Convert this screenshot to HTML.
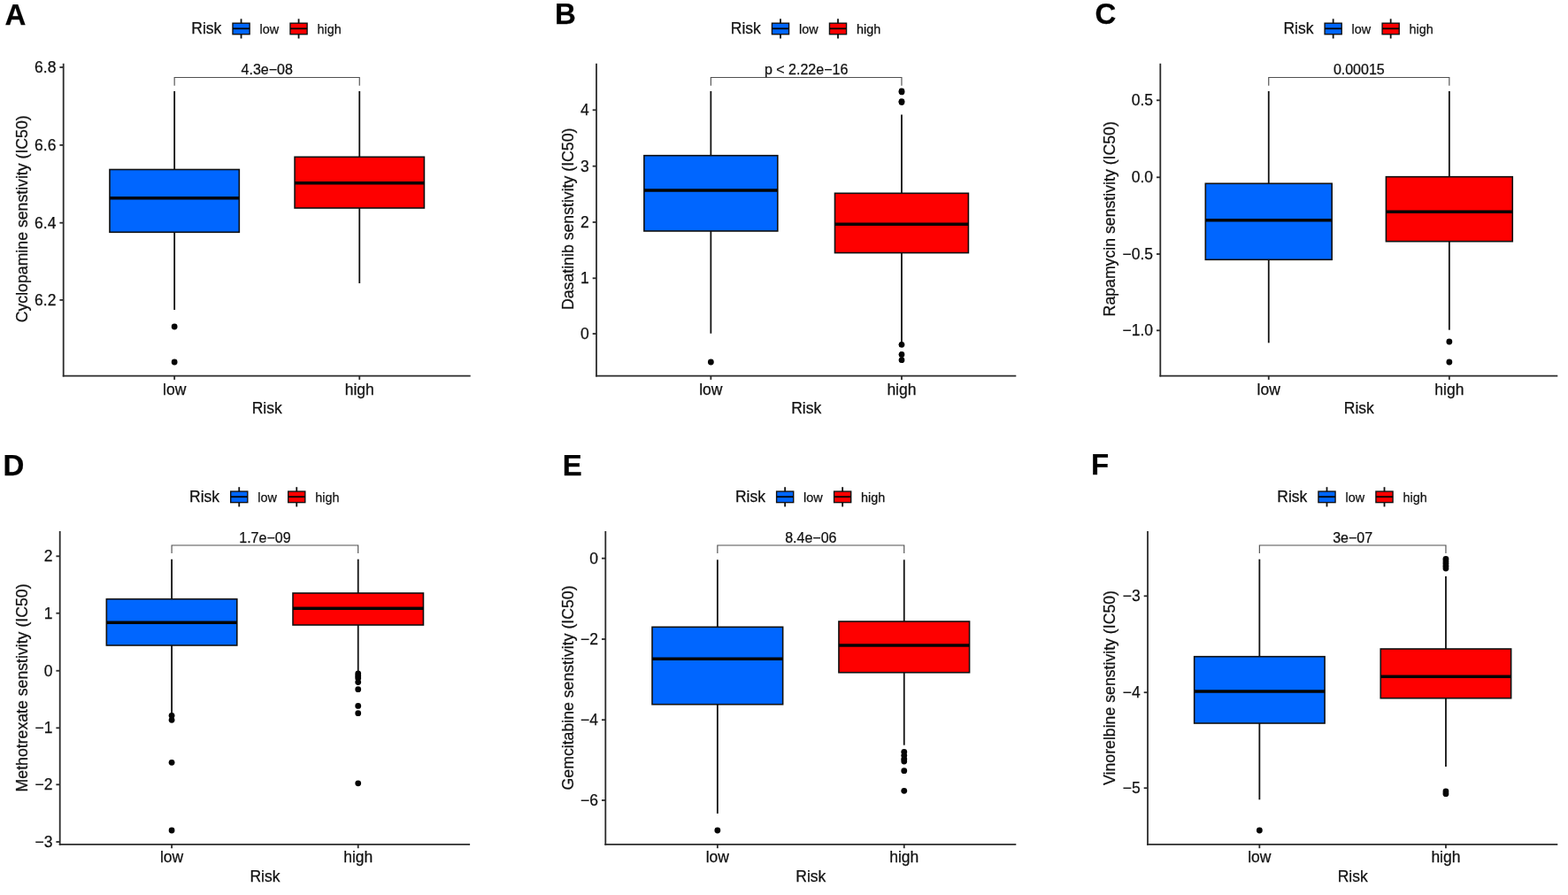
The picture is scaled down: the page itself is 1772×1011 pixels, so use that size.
<!DOCTYPE html>
<html><head><meta charset="utf-8"><title>Drug sensitivity boxplots</title>
<style>
html,body{margin:0;padding:0;background:#fff;}
body{width:1772px;height:1011px;overflow:hidden;}
svg{display:block;}
text{font-family:"Liberation Sans",Arial,Helvetica,sans-serif;fill:#111;stroke:#111;stroke-width:0.25px;}
.let{font-size:33px;font-weight:bold;fill:#000;}
.lt{font-size:17.5px;}
.ll{font-size:14.4px;}
.yt{font-size:17.5px;text-anchor:end;}
.ytt{font-size:17.7px;text-anchor:middle;}
.xt{font-size:17.5px;text-anchor:middle;}
.pv{font-size:16px;text-anchor:middle;}
.ax{stroke:#2b2b2b;stroke-width:1.8;fill:none;}
.wh{stroke:#111;stroke-width:1.8;fill:none;}
.bx{stroke:#111;stroke-width:1.6;}
.kbx{stroke:#111;stroke-width:1.4;}
.med{stroke:#050505;stroke-width:3.4;}
.kmed{stroke:#050505;stroke-width:1.8;}
.brk{stroke:#505050;stroke-width:1.15;fill:none;}
circle{fill:#050505;}
</style></head>
<body>
<svg width="1772" height="1011" viewBox="0 0 1772 1011">
<rect width="1772" height="1011" fill="#fff"/>
<text x="5.5" y="28.3" class="let">A</text>
<text x="216.3" y="38.2" class="lt">Risk</text>
<line x1="272.55" y1="21.3" x2="272.55" y2="43.5" class="wh"/>
<rect x="263" y="26.2" width="19.1" height="12.5" fill="#0066FF" class="kbx"/>
<line x1="263" y1="32.3" x2="282.1" y2="32.3" class="kmed"/>
<text x="293.5" y="37.7" class="ll">low</text>
<line x1="337.55" y1="21.3" x2="337.55" y2="43.5" class="wh"/>
<rect x="328" y="26.2" width="19.1" height="12.5" fill="#FE0000" class="kbx"/>
<line x1="328" y1="32.3" x2="347.1" y2="32.3" class="kmed"/>
<text x="358.5" y="37.7" class="ll">high</text>
<line x1="67.4" y1="76" x2="71.7" y2="76" class="ax"/>
<text x="63.4" y="82.1" class="yt">6.8</text>
<line x1="67.4" y1="163.9" x2="71.7" y2="163.9" class="ax"/>
<text x="63.4" y="170" class="yt">6.6</text>
<line x1="67.4" y1="251.7" x2="71.7" y2="251.7" class="ax"/>
<text x="63.4" y="257.8" class="yt">6.4</text>
<line x1="67.4" y1="338.9" x2="71.7" y2="338.9" class="ax"/>
<text x="63.4" y="345" class="yt">6.2</text>
<text transform="translate(30.6 247.3) rotate(-90)" class="ytt">Cyclopamine senstivity (IC50)</text>
<polyline points="197.15,96.7 197.15,87.5 406.25,87.5 406.25,96.7" class="brk"/>
<text x="301.7" y="84" class="pv">4.3e−08</text>
<line x1="197.15" y1="103" x2="197.15" y2="191.5" class="wh"/>
<line x1="197.15" y1="262.3" x2="197.15" y2="350" class="wh"/>
<rect x="123.97" y="191.5" width="146.36" height="70.8" fill="#0066FF" class="bx"/>
<line x1="123.97" y1="223.8" x2="270.34" y2="223.8" class="med"/>
<circle cx="197.15" cy="369" r="3.4"/>
<circle cx="197.15" cy="409" r="3.4"/>
<line x1="406.25" y1="103" x2="406.25" y2="177.3" class="wh"/>
<line x1="406.25" y1="235" x2="406.25" y2="320" class="wh"/>
<rect x="333.06" y="177.3" width="146.36" height="57.7" fill="#FE0000" class="bx"/>
<line x1="333.06" y1="206.7" x2="479.43" y2="206.7" class="med"/>
<line x1="71.7" y1="71.7" x2="71.7" y2="425.5" class="ax"/>
<line x1="70.8" y1="424.6" x2="531.7" y2="424.6" class="ax"/>
<line x1="197.15" y1="424.6" x2="197.15" y2="428.9" class="ax"/>
<line x1="406.25" y1="424.6" x2="406.25" y2="428.9" class="ax"/>
<text x="197.15" y="446" class="xt">low</text>
<text x="406.25" y="446" class="xt">high</text>
<text x="301.7" y="467" class="xt">Risk</text>
<text x="627" y="27.2" class="let">B</text>
<text x="825.75" y="38.2" class="lt">Risk</text>
<line x1="882" y1="21.3" x2="882" y2="43.5" class="wh"/>
<rect x="872.45" y="26.2" width="19.1" height="12.5" fill="#0066FF" class="kbx"/>
<line x1="872.45" y1="32.3" x2="891.55" y2="32.3" class="kmed"/>
<text x="902.95" y="37.7" class="ll">low</text>
<line x1="947" y1="21.3" x2="947" y2="43.5" class="wh"/>
<rect x="937.45" y="26.2" width="19.1" height="12.5" fill="#FE0000" class="kbx"/>
<line x1="937.45" y1="32.3" x2="956.55" y2="32.3" class="kmed"/>
<text x="967.95" y="37.7" class="ll">high</text>
<line x1="669.7" y1="124.3" x2="674" y2="124.3" class="ax"/>
<text x="665.7" y="130.4" class="yt">4</text>
<line x1="669.7" y1="187.7" x2="674" y2="187.7" class="ax"/>
<text x="665.7" y="193.8" class="yt">3</text>
<line x1="669.7" y1="251" x2="674" y2="251" class="ax"/>
<text x="665.7" y="257.1" class="yt">2</text>
<line x1="669.7" y1="314.3" x2="674" y2="314.3" class="ax"/>
<text x="665.7" y="320.4" class="yt">1</text>
<line x1="669.7" y1="377" x2="674" y2="377" class="ax"/>
<text x="665.7" y="383.1" class="yt">0</text>
<text transform="translate(647.5 247.3) rotate(-90)" class="ytt">Dasatinib senstivity (IC50)</text>
<polyline points="803.35,96.7 803.35,87.5 1018.95,87.5 1018.95,96.7" class="brk"/>
<text x="911.15" y="84" class="pv">p < 2.22e−16</text>
<line x1="803.35" y1="103" x2="803.35" y2="175.7" class="wh"/>
<line x1="803.35" y1="261" x2="803.35" y2="376.7" class="wh"/>
<rect x="727.9" y="175.7" width="150.91" height="85.3" fill="#0066FF" class="bx"/>
<line x1="727.9" y1="215" x2="878.81" y2="215" class="med"/>
<circle cx="803.35" cy="409" r="3.4"/>
<line x1="1018.95" y1="129.5" x2="1018.95" y2="218.3" class="wh"/>
<line x1="1018.95" y1="285.6" x2="1018.95" y2="388" class="wh"/>
<rect x="943.49" y="218.3" width="150.91" height="67.3" fill="#FE0000" class="bx"/>
<line x1="943.49" y1="253.3" x2="1094.4" y2="253.3" class="med"/>
<circle cx="1018.95" cy="102.9" r="3.4"/>
<circle cx="1018.95" cy="103.9" r="3.4"/>
<circle cx="1018.95" cy="114.6" r="3.4"/>
<circle cx="1018.95" cy="115.5" r="3.4"/>
<circle cx="1018.95" cy="389.3" r="3.4"/>
<circle cx="1018.95" cy="400.5" r="3.4"/>
<circle cx="1018.95" cy="406.7" r="3.4"/>
<line x1="674" y1="71.7" x2="674" y2="425.5" class="ax"/>
<line x1="673.1" y1="424.6" x2="1148.3" y2="424.6" class="ax"/>
<line x1="803.35" y1="424.6" x2="803.35" y2="428.9" class="ax"/>
<line x1="1018.95" y1="424.6" x2="1018.95" y2="428.9" class="ax"/>
<text x="803.35" y="446" class="xt">low</text>
<text x="1018.95" y="446" class="xt">high</text>
<text x="911.15" y="467" class="xt">Risk</text>
<text x="1237.4" y="27" class="let">C</text>
<text x="1450.4" y="38.2" class="lt">Risk</text>
<line x1="1506.65" y1="21.3" x2="1506.65" y2="43.5" class="wh"/>
<rect x="1497.1" y="26.2" width="19.1" height="12.5" fill="#0066FF" class="kbx"/>
<line x1="1497.1" y1="32.3" x2="1516.2" y2="32.3" class="kmed"/>
<text x="1527.6" y="37.7" class="ll">low</text>
<line x1="1571.65" y1="21.3" x2="1571.65" y2="43.5" class="wh"/>
<rect x="1562.1" y="26.2" width="19.1" height="12.5" fill="#FE0000" class="kbx"/>
<line x1="1562.1" y1="32.3" x2="1581.2" y2="32.3" class="kmed"/>
<text x="1592.6" y="37.7" class="ll">high</text>
<line x1="1307" y1="113.3" x2="1311.3" y2="113.3" class="ax"/>
<text x="1303" y="119.4" class="yt">0.5</text>
<line x1="1307" y1="200.3" x2="1311.3" y2="200.3" class="ax"/>
<text x="1303" y="206.4" class="yt">0.0</text>
<line x1="1307" y1="287" x2="1311.3" y2="287" class="ax"/>
<text x="1303" y="293.1" class="yt">−0.5</text>
<line x1="1307" y1="373.3" x2="1311.3" y2="373.3" class="ax"/>
<text x="1303" y="379.4" class="yt">−1.0</text>
<text transform="translate(1260.2 247.3) rotate(-90)" class="ytt">Rapamycin senstivity (IC50)</text>
<polyline points="1433.75,96.7 1433.75,87.5 1637.85,87.5 1637.85,96.7" class="brk"/>
<text x="1535.8" y="84" class="pv">0.00015</text>
<line x1="1433.75" y1="103" x2="1433.75" y2="207.3" class="wh"/>
<line x1="1433.75" y1="293.3" x2="1433.75" y2="387.3" class="wh"/>
<rect x="1362.32" y="207.3" width="142.86" height="86" fill="#0066FF" class="bx"/>
<line x1="1362.32" y1="248.7" x2="1505.19" y2="248.7" class="med"/>
<line x1="1637.85" y1="103" x2="1637.85" y2="199.7" class="wh"/>
<line x1="1637.85" y1="272.7" x2="1637.85" y2="372.7" class="wh"/>
<rect x="1566.41" y="199.7" width="142.86" height="73" fill="#FE0000" class="bx"/>
<line x1="1566.41" y1="239.3" x2="1709.28" y2="239.3" class="med"/>
<circle cx="1637.85" cy="386" r="3.4"/>
<circle cx="1637.85" cy="409" r="3.4"/>
<line x1="1311.3" y1="71.7" x2="1311.3" y2="425.5" class="ax"/>
<line x1="1310.4" y1="424.6" x2="1760.3" y2="424.6" class="ax"/>
<line x1="1433.75" y1="424.6" x2="1433.75" y2="428.9" class="ax"/>
<line x1="1637.85" y1="424.6" x2="1637.85" y2="428.9" class="ax"/>
<text x="1433.75" y="446" class="xt">low</text>
<text x="1637.85" y="446" class="xt">high</text>
<text x="1535.8" y="467" class="xt">Risk</text>
<text x="3.5" y="537.2" class="let">D</text>
<text x="214" y="567.1" class="lt">Risk</text>
<line x1="270.25" y1="550.2" x2="270.25" y2="572.4" class="wh"/>
<rect x="260.7" y="555.1" width="19.1" height="12.5" fill="#0066FF" class="kbx"/>
<line x1="260.7" y1="561.2" x2="279.8" y2="561.2" class="kmed"/>
<text x="291.2" y="566.6" class="ll">low</text>
<line x1="335.25" y1="550.2" x2="335.25" y2="572.4" class="wh"/>
<rect x="325.7" y="555.1" width="19.1" height="12.5" fill="#FE0000" class="kbx"/>
<line x1="325.7" y1="561.2" x2="344.8" y2="561.2" class="kmed"/>
<text x="356.2" y="566.6" class="ll">high</text>
<line x1="63.4" y1="628.3" x2="67.7" y2="628.3" class="ax"/>
<text x="59.4" y="634.4" class="yt">2</text>
<line x1="63.4" y1="692.7" x2="67.7" y2="692.7" class="ax"/>
<text x="59.4" y="698.8" class="yt">1</text>
<line x1="63.4" y1="757.7" x2="67.7" y2="757.7" class="ax"/>
<text x="59.4" y="763.8" class="yt">0</text>
<line x1="63.4" y1="822.3" x2="67.7" y2="822.3" class="ax"/>
<text x="59.4" y="828.4" class="yt">−1</text>
<line x1="63.4" y1="886.3" x2="67.7" y2="886.3" class="ax"/>
<text x="59.4" y="892.4" class="yt">−2</text>
<line x1="63.4" y1="951" x2="67.7" y2="951" class="ax"/>
<text x="59.4" y="957.1" class="yt">−3</text>
<text transform="translate(30.8 776.95) rotate(-90)" class="ytt">Methotrexate senstivity (IC50)</text>
<polyline points="194.08,625 194.08,616 404.72,616 404.72,625" class="brk"/>
<text x="299.4" y="612.6" class="pv">1.7e−09</text>
<line x1="194.08" y1="631.7" x2="194.08" y2="676.7" class="wh"/>
<line x1="194.08" y1="729" x2="194.08" y2="808" class="wh"/>
<rect x="120.36" y="676.7" width="147.45" height="52.3" fill="#0066FF" class="bx"/>
<line x1="120.36" y1="703.3" x2="267.8" y2="703.3" class="med"/>
<circle cx="194.08" cy="808.3" r="3.4"/>
<circle cx="194.08" cy="813.3" r="3.4"/>
<circle cx="194.08" cy="861.3" r="3.4"/>
<circle cx="194.08" cy="938" r="3.4"/>
<line x1="404.72" y1="631.7" x2="404.72" y2="670" class="wh"/>
<line x1="404.72" y1="706" x2="404.72" y2="759.5" class="wh"/>
<rect x="331" y="670" width="147.45" height="36" fill="#FE0000" class="bx"/>
<line x1="331" y1="687.3" x2="478.44" y2="687.3" class="med"/>
<circle cx="404.72" cy="761" r="3.4"/>
<circle cx="404.72" cy="763.5" r="3.4"/>
<circle cx="404.72" cy="766" r="3.4"/>
<circle cx="404.72" cy="770.6" r="3.4"/>
<circle cx="404.72" cy="778.7" r="3.4"/>
<circle cx="404.72" cy="797.4" r="3.4"/>
<circle cx="404.72" cy="805.7" r="3.4"/>
<circle cx="404.72" cy="884.8" r="3.4"/>
<line x1="67.7" y1="600" x2="67.7" y2="954.8" class="ax"/>
<line x1="66.8" y1="953.9" x2="531.1" y2="953.9" class="ax"/>
<line x1="194.08" y1="953.9" x2="194.08" y2="958.2" class="ax"/>
<line x1="404.72" y1="953.9" x2="404.72" y2="958.2" class="ax"/>
<text x="194.08" y="974" class="xt">low</text>
<text x="404.72" y="974" class="xt">high</text>
<text x="299.4" y="995.6" class="xt">Risk</text>
<text x="635.8" y="536.6" class="let">E</text>
<text x="830.9" y="567.1" class="lt">Risk</text>
<line x1="887.15" y1="550.2" x2="887.15" y2="572.4" class="wh"/>
<rect x="877.6" y="555.1" width="19.1" height="12.5" fill="#0066FF" class="kbx"/>
<line x1="877.6" y1="561.2" x2="896.7" y2="561.2" class="kmed"/>
<text x="908.1" y="566.6" class="ll">low</text>
<line x1="952.15" y1="550.2" x2="952.15" y2="572.4" class="wh"/>
<rect x="942.6" y="555.1" width="19.1" height="12.5" fill="#FE0000" class="kbx"/>
<line x1="942.6" y1="561.2" x2="961.7" y2="561.2" class="kmed"/>
<text x="973.1" y="566.6" class="ll">high</text>
<line x1="680" y1="630.7" x2="684.3" y2="630.7" class="ax"/>
<text x="676" y="636.8" class="yt">0</text>
<line x1="680" y1="722" x2="684.3" y2="722" class="ax"/>
<text x="676" y="728.1" class="yt">−2</text>
<line x1="680" y1="813.2" x2="684.3" y2="813.2" class="ax"/>
<text x="676" y="819.3" class="yt">−4</text>
<line x1="680" y1="904" x2="684.3" y2="904" class="ax"/>
<text x="676" y="910.1" class="yt">−6</text>
<text transform="translate(647.5 776.95) rotate(-90)" class="ytt">Gemcitabine senstivity (IC50)</text>
<polyline points="810.85,625 810.85,616 1021.75,616 1021.75,625" class="brk"/>
<text x="916.3" y="612.6" class="pv">8.4e−06</text>
<line x1="810.85" y1="632.3" x2="810.85" y2="708.3" class="wh"/>
<line x1="810.85" y1="795.7" x2="810.85" y2="919" class="wh"/>
<rect x="737.03" y="708.3" width="147.64" height="87.4" fill="#0066FF" class="bx"/>
<line x1="737.03" y1="744.3" x2="884.66" y2="744.3" class="med"/>
<circle cx="810.85" cy="938" r="3.4"/>
<line x1="1021.75" y1="632.3" x2="1021.75" y2="702" class="wh"/>
<line x1="1021.75" y1="759.7" x2="1021.75" y2="841.7" class="wh"/>
<rect x="947.94" y="702" width="147.64" height="57.7" fill="#FE0000" class="bx"/>
<line x1="947.94" y1="729" x2="1095.57" y2="729" class="med"/>
<circle cx="1021.75" cy="849.3" r="3.4"/>
<circle cx="1021.75" cy="853.3" r="3.4"/>
<circle cx="1021.75" cy="857.3" r="3.4"/>
<circle cx="1021.75" cy="860" r="3.4"/>
<circle cx="1021.75" cy="870.7" r="3.4"/>
<circle cx="1021.75" cy="893.3" r="3.4"/>
<line x1="684.3" y1="600" x2="684.3" y2="954.8" class="ax"/>
<line x1="683.4" y1="953.9" x2="1148.3" y2="953.9" class="ax"/>
<line x1="810.85" y1="953.9" x2="810.85" y2="958.2" class="ax"/>
<line x1="1021.75" y1="953.9" x2="1021.75" y2="958.2" class="ax"/>
<text x="810.85" y="974" class="xt">low</text>
<text x="1021.75" y="974" class="xt">high</text>
<text x="916.3" y="995.6" class="xt">Risk</text>
<text x="1233" y="536.4" class="let">F</text>
<text x="1443.25" y="567.1" class="lt">Risk</text>
<line x1="1499.5" y1="550.2" x2="1499.5" y2="572.4" class="wh"/>
<rect x="1489.95" y="555.1" width="19.1" height="12.5" fill="#0066FF" class="kbx"/>
<line x1="1489.95" y1="561.2" x2="1509.05" y2="561.2" class="kmed"/>
<text x="1520.45" y="566.6" class="ll">low</text>
<line x1="1564.5" y1="550.2" x2="1564.5" y2="572.4" class="wh"/>
<rect x="1554.95" y="555.1" width="19.1" height="12.5" fill="#FE0000" class="kbx"/>
<line x1="1554.95" y1="561.2" x2="1574.05" y2="561.2" class="kmed"/>
<text x="1585.45" y="566.6" class="ll">high</text>
<line x1="1292.7" y1="673.3" x2="1297" y2="673.3" class="ax"/>
<text x="1288.7" y="679.4" class="yt">−3</text>
<line x1="1292.7" y1="782.2" x2="1297" y2="782.2" class="ax"/>
<text x="1288.7" y="788.3" class="yt">−4</text>
<line x1="1292.7" y1="890.2" x2="1297" y2="890.2" class="ax"/>
<text x="1288.7" y="896.3" class="yt">−5</text>
<text transform="translate(1260.2 776.95) rotate(-90)" class="ytt">Vinorelbine senstivity (IC50)</text>
<polyline points="1423.35,625 1423.35,616 1633.95,616 1633.95,625" class="brk"/>
<text x="1528.65" y="612.6" class="pv">3e−07</text>
<line x1="1423.35" y1="631.7" x2="1423.35" y2="741.7" class="wh"/>
<line x1="1423.35" y1="817" x2="1423.35" y2="903.3" class="wh"/>
<rect x="1349.65" y="741.7" width="147.41" height="75.3" fill="#0066FF" class="bx"/>
<line x1="1349.65" y1="781" x2="1497.06" y2="781" class="med"/>
<circle cx="1423.35" cy="938" r="3.4"/>
<line x1="1633.95" y1="651" x2="1633.95" y2="733" class="wh"/>
<line x1="1633.95" y1="788.7" x2="1633.95" y2="866" class="wh"/>
<rect x="1560.24" y="733" width="147.41" height="55.7" fill="#FE0000" class="bx"/>
<line x1="1560.24" y1="764.3" x2="1707.65" y2="764.3" class="med"/>
<circle cx="1633.95" cy="631.3" r="3.4"/>
<circle cx="1633.95" cy="634" r="3.4"/>
<circle cx="1633.95" cy="636.6" r="3.4"/>
<circle cx="1633.95" cy="639.3" r="3.4"/>
<circle cx="1633.95" cy="642" r="3.4"/>
<circle cx="1633.95" cy="894" r="3.4"/>
<circle cx="1633.95" cy="896.7" r="3.4"/>
<line x1="1297" y1="600" x2="1297" y2="954.8" class="ax"/>
<line x1="1296.1" y1="953.9" x2="1760.3" y2="953.9" class="ax"/>
<line x1="1423.35" y1="953.9" x2="1423.35" y2="958.2" class="ax"/>
<line x1="1633.95" y1="953.9" x2="1633.95" y2="958.2" class="ax"/>
<text x="1423.35" y="974" class="xt">low</text>
<text x="1633.95" y="974" class="xt">high</text>
<text x="1528.65" y="995.6" class="xt">Risk</text>
</svg>
</body></html>
